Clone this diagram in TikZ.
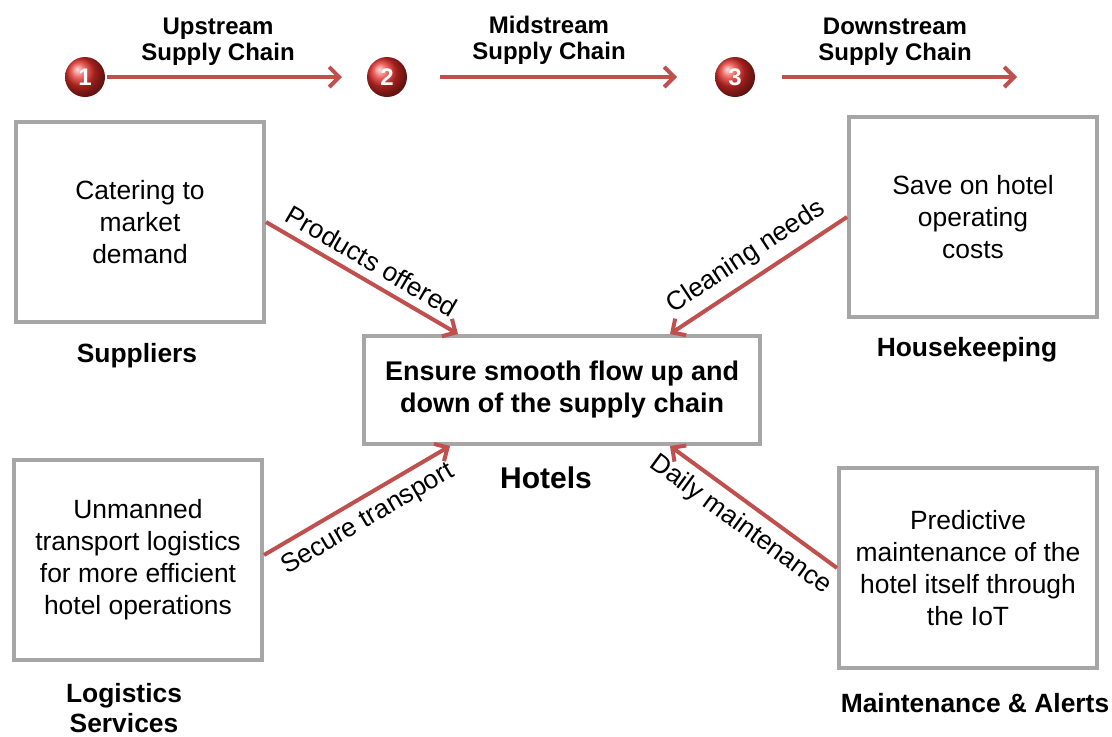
\documentclass[tikz,border=0pt]{standalone}
\usepackage{fontspec}
\setmainfont{Liberation Sans}
\usetikzlibrary{calc,arrows.meta}
\definecolor{flowred}{RGB}{192,80,77}
\definecolor{boxgray}{RGB}{166,166,166}
\definecolor{ballred}{RGB}{228,45,40}
\begin{document}
\begin{tikzpicture}[x=0.5pt,y=-0.5pt,
		box/.style={draw=boxgray,line width=2pt,minimum width=124pt,minimum height=100pt,align=center,font=\fontsize{13.2}{16}\selectfont},
		caption/.style={align=center,font=\bfseries\fontsize{13.2}{15}\selectfont},
		stagecap/.style={align=center,font=\bfseries\fontsize{12}{13}\selectfont},
		flow/.style={draw=flowred,line width=2pt,-{Straight Barb[length=5pt,width=10pt]}},
		tag/.style={font=\fontsize{13.2}{15}\selectfont,sloped,inner sep=4pt},
		stage/.style={circle,ball color=ballred,minimum size=20pt,inner sep=0pt,text=white,font=\bfseries\fontsize{12}{13}\selectfont}]
	\useasboundingbox (0,0) rectangle (1112,736);
	
	% stages of the chain
	\node[stage] (s1) at (85,77) {1};
	\node[stage] (s2) at (387,77) {2};
	\node[stage] (s3) at (735,77) {3};
	\coordinate (e3) at (1017,77);
	\draw[flow] ($(s1)+(22,0)$) -- ($(s2)+(-45,0)$);
	\draw[flow] ($(s2)+(53,0)$) -- ($(s3)+(-58,0)$);
	\draw[flow] ($(s3)+(47,0)$) -- (e3);
	\node[stagecap] (up) at (218,42) {Upstream\\Supply Chain};
	\node[stagecap] (mid) at (549,40) {Midstream\\Supply Chain};
	\node[stagecap] (down) at (895,42) {Downstream\\Supply Chain};
	
	% boxes
	\node[box] (sup) at (140,222) {Catering to\\market\\demand};
	\node[box] (hk) at (973,217) {Save on hotel\\operating\\costs};
	\node[box] (log) at (138,560) {Unmanned\\transport logistics\\for more efficient\\hotel operations};
	\node[box,minimum width=129pt] (mnt) at (968,568) {Predictive\\maintenance of the\\hotel itself through\\the IoT};
	\node[box,minimum width=198pt,minimum height=54pt,font=\bfseries\fontsize{13.5}{16}\selectfont] (hotel) at (562,390) {Ensure smooth flow up and\\down of the supply chain};
	
	\node[caption] (supl) at (137,356) {Suppliers};
	\node[caption] (hkl) at (967,350) {Housekeeping};
	\node[caption] (logl) at (124,708) {Logistics\\Services};
	\node[caption] (mntl) at (975,703) {Maintenance \& Alerts};
	\node[caption,font=\bfseries\fontsize{15}{17}\selectfont] (hotl) at (546,478) {Hotels};
	
	% flows into the hotel
	\draw[flow] (sup.east) -- ($(hotel.north)+(-104,0)$) node[tag,midway,above] {Products offered};
	\draw[flow] (hk.west) -- ($(hotel.north)+(108,0)$) node[tag,midway,above] {Cleaning needs};
	\draw[flow] ($(log.east)+(0,-5)$) -- ($(hotel.south)+(-112,0)$) node[tag,midway,below] {Secure transport};
	\draw[flow] (mnt.west) -- ($(hotel.south)+(108,0)$) node[tag,midway,below] {Daily maintenance};
\end{tikzpicture}
\end{document}
